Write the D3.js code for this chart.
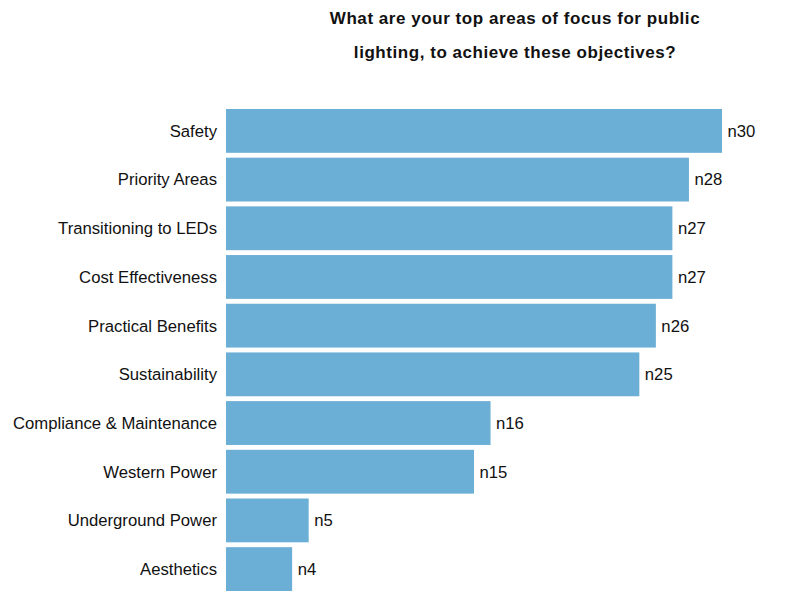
<!DOCTYPE html>
<html>
<head>
<meta charset="utf-8">
<script src="https://cdn.jsdelivr.net/npm/d3@7"></script>
<style>
  body { margin: 0; background: #fff; }
  svg text { font-family: "Liberation Sans", Arial, sans-serif; fill: #111; }
</style>
</head>
<body>
<svg id="chart" width="792" height="592"></svg>
<script>
// Survey responses: areas of focus for public lighting
const categories = [
  "Safety", "Priority Areas", "Transitioning to LEDs", "Cost Effectiveness",
  "Practical Benefits", "Sustainability", "Compliance & Maintenance",
  "Western Power", "Underground Power", "Aesthetics"
];
const counts = [30, 28, 27, 27, 26, 25, 16, 15, 5, 4];
const titleLines = [
  "What are your top areas of focus for public",
  "lighting, to achieve these objectives?"
];

const svg = d3.select("#chart");
const plotLeft = 226, plotRight = 722, plotTop = 109, plotBottom = 591;

const x = d3.scaleLinear().domain([0, 30]).range([plotLeft, plotRight]);
const y = d3.scaleBand().domain(categories).range([plotTop, plotBottom])
  .paddingInner(0.1).paddingOuter(0);

// Title
svg.append("g").selectAll("text").data(titleLines).join("text")
  .attr("x", 515)
  .attr("y", (d, i) => 24 + i * 34)
  .attr("text-anchor", "middle")
  .attr("font-size", 17)
  .attr("letter-spacing", "0.55px")
  .attr("font-weight", "bold")
  .text(d => d);

const data = categories.map((c, i) => ({ c, v: counts[i] }));

// Bars
svg.append("g").selectAll("rect").data(data).join("rect")
  .attr("x", x(0))
  .attr("y", d => y(d.c))
  .attr("width", d => x(d.v) - x(0))
  .attr("height", y.bandwidth())
  .attr("fill", "#6baed6");

// Category labels
svg.append("g").selectAll("text").data(data).join("text")
  .attr("x", plotLeft - 9)
  .attr("y", d => y(d.c) + y.bandwidth() / 2)
  .attr("dy", "0.35em")
  .attr("text-anchor", "end")
  .attr("font-size", 16.7)
  .text(d => d.c);

// Value labels
svg.append("g").selectAll("text").data(data).join("text")
  .attr("x", d => x(d.v) + 5.5)
  .attr("y", d => y(d.c) + y.bandwidth() / 2)
  .attr("dy", "0.35em")
  .attr("font-size", 16.7)
  .text(d => "n" + d.v);
</script>
</body>
</html>
